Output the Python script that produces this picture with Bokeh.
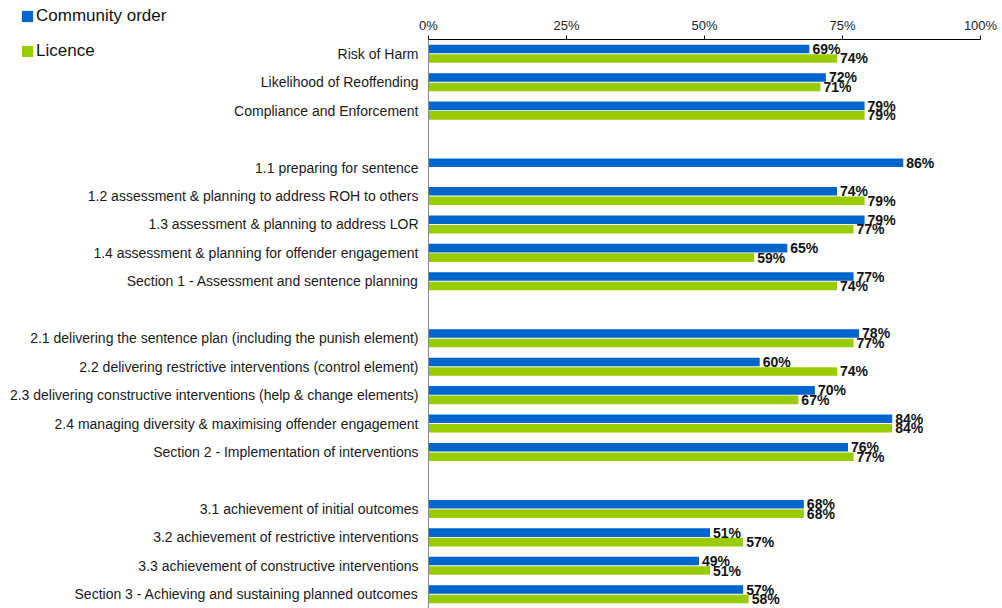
from bokeh.plotting import figure
from bokeh.models import ColumnDataSource, Range1d, Legend, LegendItem
from bokeh.core.properties import value
from bokeh.embed import file_html
from bokeh.resources import INLINE

categories = [
    "Risk of Harm",
    "Likelihood of Reoffending",
    "Compliance and Enforcement",
    "",
    "1.1 preparing for sentence",
    "1.2 assessment & planning to address ROH to others",
    "1.3 assessment & planning to address LOR",
    "1.4 assessment & planning for offender engagement",
    "Section 1 - Assessment and sentence planning",
    "",
    "2.1 delivering the sentence plan (including the punish element)",
    "2.2 delivering restrictive interventions (control element)",
    "2.3 delivering constructive interventions (help & change elements)",
    "2.4 managing diversity & maximising offender engagement",
    "Section 2 - Implementation of interventions",
    "",
    "3.1 achievement of initial outcomes",
    "3.2 achievement of restrictive interventions",
    "3.3 achievement of constructive interventions",
    "Section 3 - Achieving and sustaining planned outcomes",
]
community_order = [69, 72, 79, None, 86, 74, 79, 65, 77, None, 78, 60, 70, 84, 76, None, 68, 51, 49, 57]
licence = [74, 71, 79, None, None, 79, 77, 59, 74, None, 77, 74, 67, 84, 77, None, 68, 57, 51, 58]
series_names = ["Community order", "Licence"]
x_ticks = [0, 25, 50, 75, 100]
x_tick_labels = ["0%", "25%", "50%", "75%", "100%"]

BLUE = "#0066CC"
GREEN = "#99CC00"
FONT = "Liberation Sans"

W, H = 1002, 608
PLOT_LEFT, PLOT_RIGHT, PLOT_TOP = 428, 980, 39
n = len(categories)
row_px = (H - PLOT_TOP) / n
px_per_unit = (PLOT_RIGHT - PLOT_LEFT) / (x_ticks[-1] - x_ticks[0])
x_start = x_ticks[0] - PLOT_LEFT / px_per_unit
x_end = x_ticks[-1] + (W - PLOT_RIGHT) / px_per_unit
y_top = -PLOT_TOP / row_px

DODGE = 0.167
BAR_H = 0.3


def make_source(vals, shift):
    idx = [i for i, v in enumerate(vals) if v is not None]
    return ColumnDataSource(dict(
        y=[i + 0.5 + shift for i in idx],
        val=[vals[i] for i in idx],
        lab=[f"{vals[i]}%" for i in idx],
    ))


src_co = make_source(community_order, -DODGE)
src_li = make_source(licence, DODGE)

p = figure(
    width=W, height=H,
    x_range=Range1d(x_start, x_end),
    y_range=Range1d(n, y_top),
    x_axis_type=None, y_axis_type=None,
    output_backend="svg", toolbar_location=None,
    min_border=0,
)
p.outline_line_color = None
p.xgrid.visible = False
p.ygrid.visible = False

r1 = p.hbar(y="y", right="val", left=0, height=BAR_H, source=src_co,
            fill_color=BLUE, line_color=None)
r2 = p.hbar(y="y", right="val", left=0, height=BAR_H, source=src_li,
            fill_color=GREEN, line_color=None)

for src in (src_co, src_li):
    p.text(x="val", y="y", text="lab", source=src,
           x_offset=3, text_baseline="middle", text_align="left",
           text_font=value(FONT), text_font_size="14px", text_font_style="bold",
           text_color="#111111")

# category axis (left)
p.segment(x0=[0], x1=[0], y0=[0], y1=[n], line_color="#888888", line_width=1)
p.text(x=[0] * n, y=[i + 0.5 for i in range(n)], text=categories,
       x_offset=-10, text_align="right", text_baseline="middle",
       text_font=value(FONT), text_font_size="14px", text_color="#1a1a1a")

# value axis (top)
p.segment(x0=[x_ticks[0]], x1=[x_ticks[-1]], y0=[0], y1=[0], line_color="#000000", line_width=1)
p.segment(x0=x_ticks, x1=x_ticks, y0=[0] * len(x_ticks), y1=[-4 / row_px] * len(x_ticks),
          line_color="#000000", line_width=1)
p.text(x=x_ticks, y=[0] * len(x_ticks), text=x_tick_labels, y_offset=-14,
       text_align="center", text_baseline="alphabetic",
       text_font=value(FONT), text_font_size="13px", text_color="#222222")

legend = Legend(
    items=[LegendItem(label=series_names[0], renderers=[r1]),
           LegendItem(label=series_names[1], renderers=[r2])],
    location=(20, 547),
    orientation="vertical",
    glyph_width=14, glyph_height=14,
    label_standoff=2, spacing=15, padding=0, margin=0,
    label_text_font=FONT, label_text_font_size="17px", label_text_color="#111111",
    border_line_color=None, background_fill_alpha=0,
)
p.add_layout(legend, "center")

open("out.html", "w").write(file_html(p, INLINE))
